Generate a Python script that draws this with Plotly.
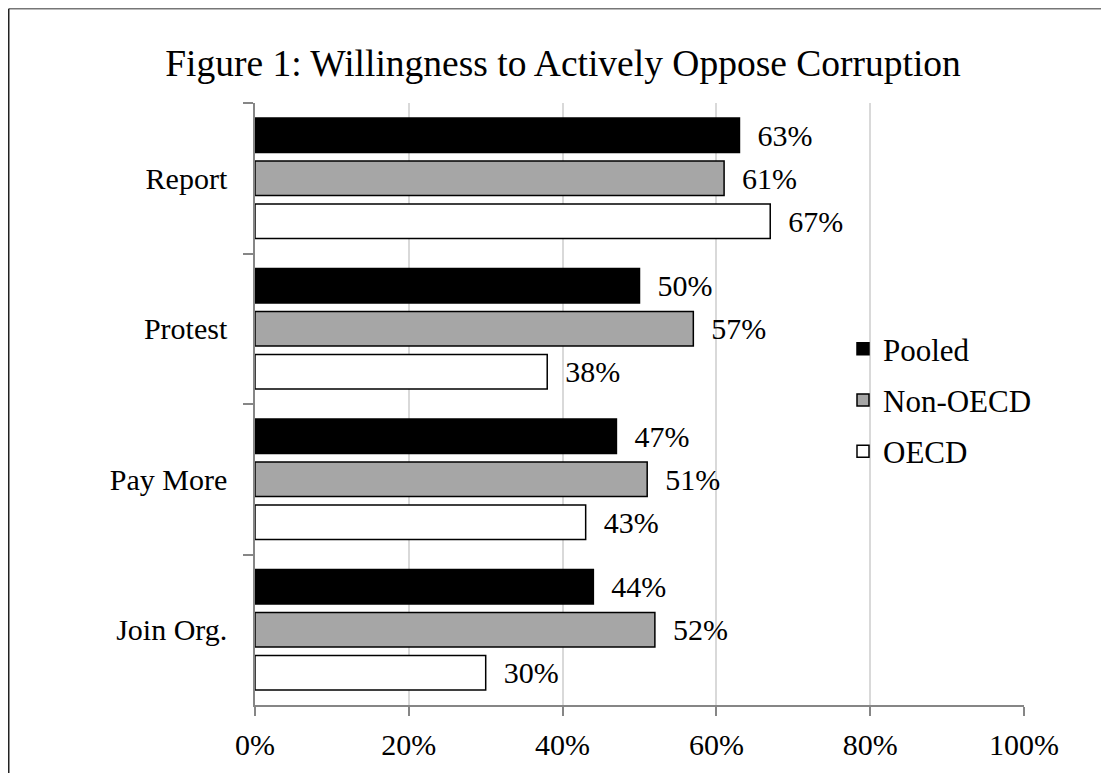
import plotly.graph_objects as go

categories = ["Report", "Protest", "Pay More", "Join Org."]
series_names = ["Pooled", "Non-OECD", "OECD"]
pooled = [63, 50, 47, 44]
non_oecd = [61, 57, 51, 52]
oecd = [67, 38, 43, 30]
x_ticks = [0, 20, 40, 60, 80, 100]
x_tick_text = ["0%", "20%", "40%", "60%", "80%", "100%"]

fills = ["#000000", "#a6a6a6", "#ffffff"]
FONT = "Liberation Serif, Times New Roman, serif"

OFF = 8  # page body margin
W, H = 1109 - OFF, 773 - OFF
L = 255 - OFF
T = 103 - OFF
R = W - (1024 - OFF)
B = H - (705 - OFF)
pw, ph = W - L - R, H - T - B

def px_x(p):  # page pixel -> paper x
    return (p - OFF - L) / pw

def px_y(p):  # page pixel -> paper y
    return (H - B - (p - OFF)) / ph

fig = go.Figure()
for name, vals, col in zip(series_names, [pooled, non_oecd, oecd], fills):
    fig.add_trace(go.Bar(
        y=categories, x=vals, orientation="h", name=name,
        marker=dict(color=col, line=dict(color="#000000", width=1.5)),
        text=["\u00a0\u00a0" + f"{v}%" for v in vals],
        textposition="outside", constraintext="none", cliponaxis=False,
        textfont=dict(family=FONT, size=30, color="#000000"),
        legendgroup=name,
    ))

fig.update_layout(
    width=W, height=H,
    margin=dict(l=L, r=R, t=T, b=B),
    paper_bgcolor="white", plot_bgcolor="white",
    barmode="group", bargap=0.143, bargroupgap=0.2,
    font=dict(family=FONT, size=30, color="#000000"),
    title=dict(text="Figure 1: Willingness to Actively Oppose Corruption",
               font=dict(family=FONT, size=37.5, color="#000000"),
               x=(563 - OFF) / W, xanchor="center", xref="container",
               y=(H - (63 - OFF)) / H, yanchor="middle", yref="container"),
    legend=dict(x=px_x(843), y=px_y(322), xanchor="left", yanchor="top",
                font=dict(family=FONT, size=31, color="#000000"),
                traceorder="grouped", tracegroupgap=8,
                bgcolor="rgba(0,0,0,0)"),
    xaxis=dict(range=[0, 100], tickvals=x_ticks, ticktext=x_tick_text,
               showgrid=True, gridcolor="#d9d9d9", gridwidth=1.5,
               showline=True, linecolor="#868686", linewidth=1.5,
               ticks="outside", ticklen=9, tickcolor="#868686", tickwidth=1.5,
               ticklabelstandoff=3, zeroline=False,
               tickfont=dict(family=FONT, size=30, color="#000000")),
    yaxis=dict(autorange="reversed", showline=True, linecolor="#868686", linewidth=1.5,
               ticks="outside", tickson="boundaries", ticklen=10,
               tickcolor="#868686", tickwidth=1.5, ticklabelstandoff=20,
               showgrid=False,
               tickfont=dict(family=FONT, size=30, color="#000000")),
    shapes=[
        dict(type="line", xref="paper", yref="paper",
             x0=px_x(OFF + 0.75), x1=px_x(1115), y0=px_y(OFF + 0.75), y1=px_y(OFF + 0.75),
             line=dict(color="#767676", width=1.5)),
        dict(type="line", xref="paper", yref="paper",
             x0=px_x(OFF + 0.75), x1=px_x(OFF + 0.75), y0=px_y(OFF + 0.75), y1=px_y(780),
             line=dict(color="#222222", width=1.5)),
    ],
)

fig.write_html("out.html")
